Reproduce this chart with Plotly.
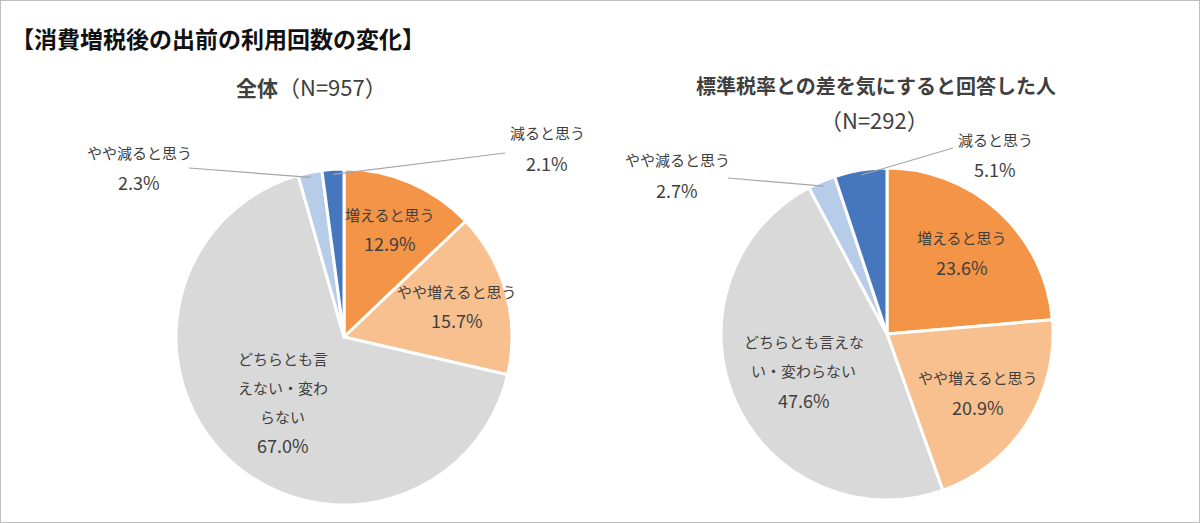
import numpy as np
import plotly.graph_objects as go

W, H = 1200, 523

categories = ['増えると思う', 'やや増えると思う', 'どちらとも言えない・変わらない', 'やや減ると思う', '減ると思う']
all_values = [12.9, 15.7, 67.0, 2.3, 2.1]
concern_values = [23.6, 20.9, 47.6, 2.7, 5.1]
colors = ['#F39447', '#F8C08E', '#D9D9D9', '#B7CCE8', '#4677BE']

all_label_lines = [['増えると思う'], ['やや増えると思う'], ['どちらとも言', 'えない・変わ', 'らない'],
                   ['やや減ると思う'], ['減ると思う']]
concern_label_lines = [['増えると思う'], ['やや増えると思う'], ['どちらとも言えな', 'い・変わらない'],
                       ['やや減ると思う'], ['減ると思う']]

main_title = '【消費増税後の出前の利用回数の変化】'

JP = 'Noto Sans CJK JP'
TXT = '#404040'


def to_paper(x, y):
    return x / W, 1 - y / H


def mid_angles(values):
    total = float(sum(values))
    cum = np.cumsum([0] + list(values))
    return [(cum[i] + values[i] / 2) / total * 2 * np.pi for i in range(len(values))]


def polar(cx, cy, r, theta):
    return cx + r * np.sin(theta), cy - r * np.cos(theta)


fig = go.Figure()
annotations = []
shapes = []


def add_text_block(x, y, lines, step=29):
    n = len(lines)
    for k, (txt, size) in enumerate(lines):
        xp, yp = to_paper(x, y + (k - (n - 1) / 2) * step)
        annotations.append(dict(x=xp, y=yp, xref='paper', yref='paper', text=txt, showarrow=False,
                                font=dict(family=JP, size=size, color=TXT), xanchor='center', yanchor='middle'))


def add_title(x, y, text, size, anchor='center', color=TXT):
    xp, yp = to_paper(x, y)
    annotations.append(dict(x=xp, y=yp, xref='paper', yref='paper', text=text, showarrow=False,
                            xanchor=anchor, yanchor='middle', font=dict(family=JP, size=size, color=color)))


pies = [
    dict(values=all_values, lines=all_label_lines, cx=344, cy=337, r=168,
         fracs=[0.70, 0.70, 0.53],
         outside={3: ((139, 167), (189, 168)), 4: ((547, 148), (505, 153))}),
    dict(values=concern_values, lines=concern_label_lines, cx=887, cy=334, r=166,
         fracs=[0.67, 0.65, 0.55],
         outside={3: ((677, 175), (728, 178)), 4: ((995, 154), (953, 148))}),
]

for p in pies:
    cx, cy, r = p['cx'], p['cy'], p['r']
    fig.add_trace(go.Pie(
        labels=categories, values=p['values'], sort=False, direction='clockwise', rotation=0,
        marker=dict(colors=colors, line=dict(color='white', width=3)),
        textinfo='none', hoverinfo='label+percent', showlegend=False,
        domain=dict(x=[(cx - r) / W, (cx + r) / W], y=[1 - (cy + r) / H, 1 - (cy - r) / H]),
    ))
    angles = mid_angles(p['values'])
    for i, v in enumerate(p['values']):
        lines = [(t, 15) for t in p['lines'][i]] + [('%.1f%%' % v, 18)]
        if i in p['outside']:
            (lx, ly), (ex, ey) = p['outside'][i]
            add_text_block(lx, ly, lines, step=30)
            sx, sy = polar(cx, cy, r * 0.97, angles[i])
            x0, y0 = to_paper(ex, ey)
            x1, y1 = to_paper(sx, sy)
            shapes.append(dict(type='line', xref='paper', yref='paper', x0=x0, y0=y0, x1=x1, y1=y1,
                               line=dict(color='#A6A6A6', width=1.2)))
        else:
            x, y = polar(cx, cy, r * p['fracs'][i], angles[i])
            add_text_block(x, y, lines)

# titles
add_title(9, 38, '<b>' + main_title + '</b>', 23, anchor='left', color='#111111')
add_title(311, 86, '<b>全体</b><span style="font-size:22px">（N=957）</span>', 21)
add_title(876, 86, '<b>標準税率との差を気にすると回答した人</b>', 20)
add_title(874, 119, '（N=292）', 22)

shapes.append(dict(type='rect', xref='paper', yref='paper', x0=0, y0=0, x1=1, y1=1,
                   line=dict(color='#BFBFBF', width=2)))

fig.update_layout(
    width=W, height=H, margin=dict(l=0, r=0, t=0, b=0),
    paper_bgcolor='white', plot_bgcolor='white',
    annotations=annotations, shapes=shapes,
)

# page has a default 8px body margin; drop it so the figure fills the window
fig.write_html("out.html", config={'displayModeBar': False},
               post_script="document.body.style.margin='0';document.body.style.overflow='hidden';")
